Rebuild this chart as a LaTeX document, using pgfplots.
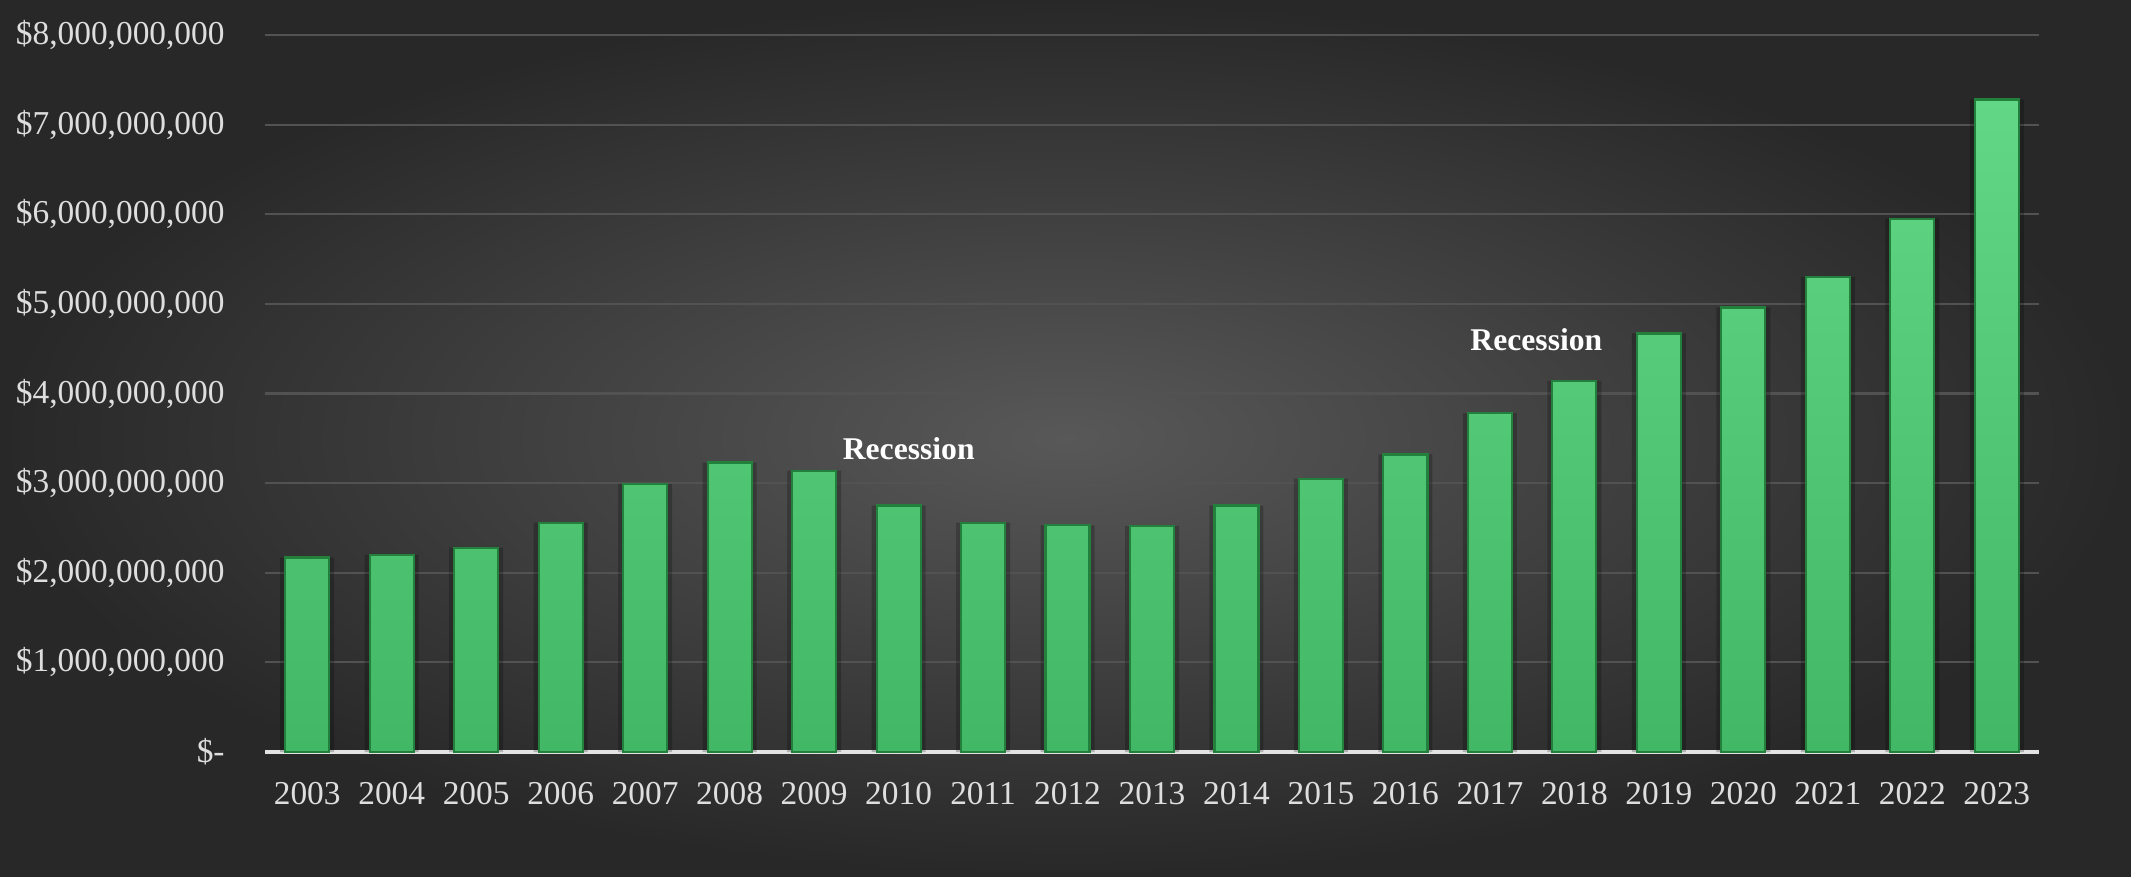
\documentclass[border=0pt]{standalone}
\usepackage{pgfplots}
\pgfplotsset{compat=1.18}
\usepackage{fontspec}
\setmainfont{Liberation Serif}
\definecolor{bgin}{RGB}{88,88,88}
\definecolor{bgout}{RGB}{40,40,40}
\definecolor{bartop}{RGB}{98,216,134}
\definecolor{barbot}{RGB}{66,184,102}
\definecolor{baredge}{RGB}{34,128,60}
\definecolor{gridc}{RGB}{82,82,82}
\definecolor{lbl}{RGB}{222,222,222}
\begin{document}
\begin{tikzpicture}
\useasboundingbox (-2.65,-1.24) rectangle (18.66,7.52);
\shade[inner color=bgin, outer color=bgout] (-2.65,-1.24) rectangle (18.66,7.52);
\begin{axis}[
  at={(0,0)}, anchor=south west,
  scale only axis, width=17.74cm, height=7.17cm,
  xmin=-0.5, xmax=20.5, ymin=0, ymax=8e9,
  scaled y ticks=false,
  axis lines*=left,
  y axis line style={draw=none},
  x axis line style={draw=lbl!85, line width=1.4pt},
  major tick length=0pt,
  ymajorgrids, grid style={gridc, line width=0.6pt},
  xtick={0,1,2,3,4,5,6,7,8,9,10,11,12,13,14,15,16,17,18,19,20},
  xticklabels={2003,2004,2005,2006,2007,2008,2009,2010,2011,2012,2013,2014,2015,2016,2017,2018,2019,2020,2021,2022,2023},
  ytick={0,1e9,2e9,3e9,4e9,5e9,6e9,7e9,8e9},
  yticklabels={\$-\hspace{0.16cm},{\$1,000,000,000},{\$2,000,000,000},{\$3,000,000,000},{\$4,000,000,000},{\$5,000,000,000},{\$6,000,000,000},{\$7,000,000,000},{\$8,000,000,000}},
  tick label style={font=\fontsize{9.5}{11}\selectfont, text=lbl},
  yticklabel style={xshift=-0.28cm},
  xticklabel style={yshift=-0.18cm},
  ybar, bar shift=0pt,
]
\addplot[ybar, bar width=0.54cm, bar shift=0pt, fill=black, opacity=0.22, draw=none] coordinates {
(0,2.17e9) (1,2.20e9) (2,2.28e9) (3,2.56e9) (4,2.99e9) (5,3.23e9) (6,3.14e9)
(7,2.75e9) (8,2.56e9) (9,2.53e9) (10,2.52e9) (11,2.75e9) (12,3.05e9) (13,3.32e9)
(14,3.78e9) (15,4.14e9) (16,4.67e9) (17,4.96e9) (18,5.30e9) (19,5.95e9) (20,7.28e9)};
\addplot[ybar, bar width=0.44cm, bar shift=0pt, top color=bartop, bottom color=barbot, draw=baredge, line width=0.6pt] coordinates {
(0,2.17e9) (1,2.20e9) (2,2.28e9) (3,2.56e9) (4,2.99e9) (5,3.23e9) (6,3.14e9)
(7,2.75e9) (8,2.56e9) (9,2.53e9) (10,2.52e9) (11,2.75e9) (12,3.05e9) (13,3.32e9)
(14,3.78e9) (15,4.14e9) (16,4.67e9) (17,4.96e9) (18,5.30e9) (19,5.95e9) (20,7.28e9)};
\node[font=\bfseries\fontsize{9}{11}\selectfont, text=white] at (axis cs:7.12,3.38e9) {Recession};
\node[font=\bfseries\fontsize{9}{11}\selectfont, text=white] at (axis cs:14.55,4.60e9) {Recession};
\end{axis}
\end{tikzpicture}
\end{document}
